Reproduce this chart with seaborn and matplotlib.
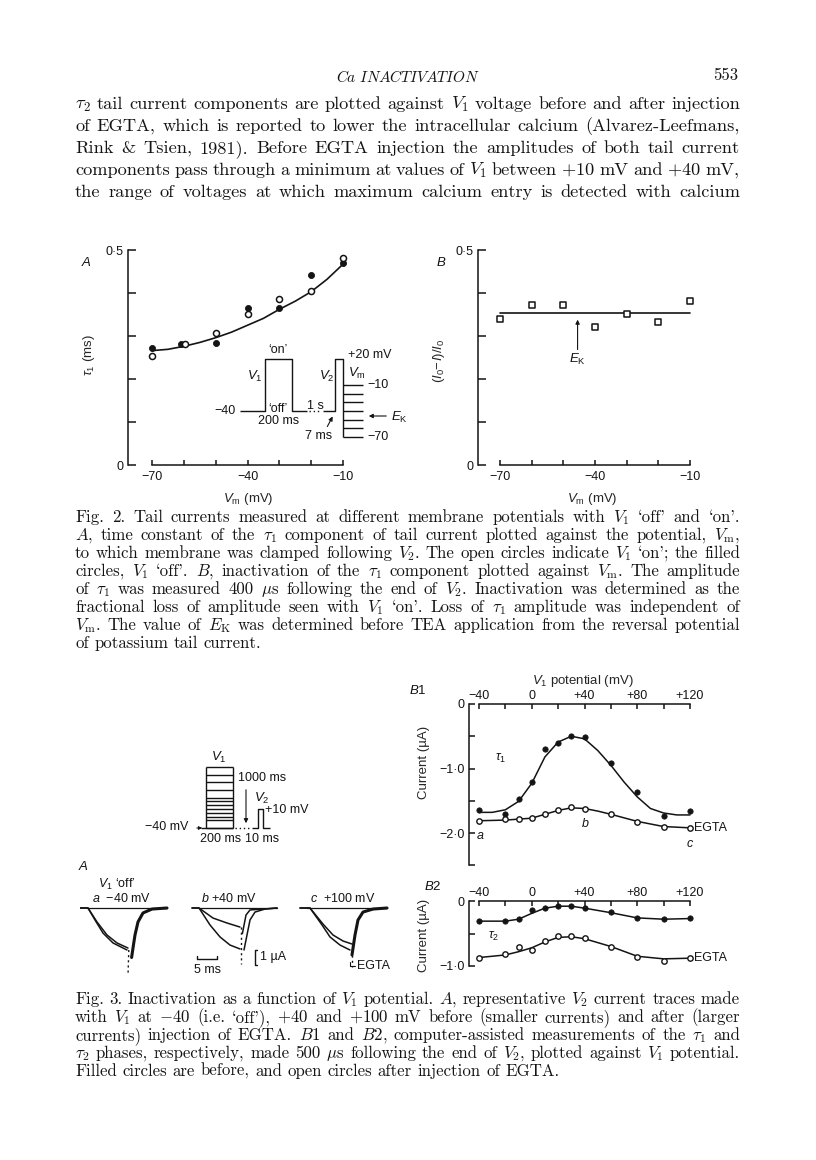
import numpy as np
import pandas as pd
import seaborn as sns
import matplotlib.pyplot as plt

W, H = 816, 1160
INK = '#141414'

# ---------------- Fig. 2A : tau1 of tail current against Vm
off_vm = [-70, -61, -50, -40, -30, -20, -10]
off_tau = [0.271, 0.282, 0.284, 0.365, 0.365, 0.443, 0.470]
on_vm = [-70, -59.5, -50, -40, -30, -20, -10]
on_tau = [0.254, 0.282, 0.308, 0.351, 0.385, 0.405, 0.482]
fit_vm = [-70, -65, -60, -55, -50, -45, -40, -35, -30, -25, -20, -15, -10]
fit_tau = [0.266, 0.269, 0.276, 0.285, 0.296, 0.309, 0.325, 0.341, 0.362, 0.381, 0.403, 0.432, 0.467]
hold_mv, on_mv = -40, 20
vm_steps = [-10, -20, -30, -40, -50, -60, -70]

# ---------------- Fig. 2B : inactivation of tau1 against Vm
inact_vm = [-70, -60, -50, -40, -30, -20, -10]
inact = [0.339, 0.371, 0.371, 0.321, 0.352, 0.332, 0.381]
inact_mean = 0.3525
ek_mv = -45.5

# ---------------- Fig. 3B1 / B2 : tail amplitudes against V1
v1 = [-40, -20, -10, 0, 10, 20, 30, 40, 60, 80, 100, 120]
t1_before = [-1.64, -1.71, -1.47, -1.21, -0.70, -0.60, -0.50, -0.51, -0.92, -1.36, -1.73, -1.66]
t1_egta = [-1.81, -1.79, -1.79, -1.77, -1.71, -1.64, -1.60, -1.63, -1.71, -1.83, -1.91, -1.92]
fit1_v = [-40, -30, -20, -10, 0, 10, 20, 30, 40, 50, 60, 70, 80, 90, 100, 110, 120]
fit1_before = [-1.68, -1.68, -1.64, -1.51, -1.23, -0.82, -0.59, -0.50, -0.54, -0.72, -0.95,
               -1.21, -1.44, -1.62, -1.69, -1.72, -1.72]
fit1e_v = [-40, -20, 0, 10, 20, 30, 40, 50, 60, 80, 100, 120]
fit1_egta = [-1.81, -1.80, -1.77, -1.71, -1.65, -1.61, -1.62, -1.66, -1.71, -1.82, -1.90, -1.92]

t2_before = [-0.31, -0.31, -0.28, -0.14, -0.10, -0.07, -0.08, -0.10, -0.17, -0.26, -0.27, -0.26]
t2_egta = [-0.87, -0.82, -0.71, -0.76, -0.61, -0.54, -0.54, -0.57, -0.70, -0.86, -0.93, -0.87]
fit2_v = [-40, -20, -10, 0, 10, 20, 30, 40, 60, 80, 100, 120]
fit2_before = [-0.31, -0.31, -0.28, -0.19, -0.11, -0.08, -0.08, -0.11, -0.18, -0.26, -0.28, -0.27]
fit2_egta = [-0.87, -0.83, -0.78, -0.72, -0.63, -0.56, -0.55, -0.58, -0.70, -0.85, -0.89, -0.88]
v2_mv = 10

# ---------------- Fig. 3A : V2 current traces (ms, uA)
tr_a_small = ([0, 2, 4.25, 6.75, 9.25, 12], [0, 0, -0.93, -1.8, -2.33, -2.67])
tr_a_large = ([0, 2, 3.75, 5.75, 8.25, 11.75], [0, 0, -0.8, -1.67, -2.33, -2.8])
tr_a_tail = ([12.2, 12.0], [-2.8, -4.5])
tr_a_rec = ([12.9, 13.4, 13.75, 14.5, 15.75, 18, 21.75], [-3.3, -2.4, -1.8, -0.93, -0.33, -0.07, 0])
tr_b_small = ([0, 1.75, 5.25, 8.75, 12], [0, 0, -0.67, -1.0, -1.27])
tr_b_large = ([0, 1.75, 4.5, 7, 9.5, 12], [0, 0, -1.13, -1.93, -2.47, -2.73])
tr_b_tail = ([12.3, 12.3], [-1.27, -3.7])
tr_b_rec1 = ([12.6, 13.5, 14.5, 17.75, 21.25], [-1.7, -0.47, -0.13, -0.07, 0])
tr_b_rec2 = ([13, 13.75, 14.5, 15.75, 18.25, 21.25], [-2.8, -1.8, -0.8, -0.27, -0.07, 0])
tr_c_small = ([0, 2.5, 5.75, 8.25, 10.75, 13], [0, 0, -1.07, -1.8, -2.2, -2.4])
tr_c_large = ([0, 2.5, 5.5, 7.5, 10, 12.5], [0, 0, -1.13, -1.93, -2.47, -2.8])
tr_c_tail = ([13, 13], [-2.8, -3.9])
tr_c_rec = ([13, 13.75, 14.5, 15.75, 18.25, 21.75], [-3.13, -1.8, -0.8, -0.27, -0.07, 0])
sweep_end = [21.75, 21.25, 21.75]

body = [
    r'$\tau_2$ tail current components are plotted against $V_1$ voltage before and after injection',
    'of EGTA, which is reported to lower the intracellular calcium (Alvarez-Leefmans,',
    'Rink & Tsien, 1981). Before EGTA injection the amplitudes of both tail current',
    r'components pass through a minimum at values of $V_1$ between $+10$ mV and $+40$ mV,',
    'the range of voltages at which maximum calcium entry is detected with calcium',
]
cap2 = [
    r"Fig. 2. Tail currents measured at different membrane potentials with $V_1$ `off' and `on'.",
    r'$A$, time constant of the $\tau_1$ component of tail current plotted against the potential, $V_\mathrm{m}$,',
    r"to which membrane was clamped following $V_2$. The open circles indicate $V_1$ `on'; the filled",
    r"circles, $V_1$ `off'. $B$, inactivation of the $\tau_1$ component plotted against $V_\mathrm{m}$. The amplitude",
    r'of $\tau_1$ was measured 400 $\mu$s following the end of $V_2$. Inactivation was determined as the',
    r"fractional loss of amplitude seen with $V_1$ `on'. Loss of $\tau_1$ amplitude was independent of",
    r'$V_\mathrm{m}$. The value of $E_\mathrm{K}$ was determined before TEA application from the reversal potential',
    'of potassium tail current.',
]
cap3 = [
    r'Fig. 3. Inactivation as a function of $V_1$ potential. $A$, representative $V_2$ current traces made',
    r"with $V_1$ at $-40$ (i.e. `off'), $+40$ and $+100$ mV before (smaller currents) and after (larger",
    r'currents) injection of EGTA. $B$1 and $B$2, computer-assisted measurements of the $\tau_1$ and',
    r'$\tau_2$ phases, respectively, made 500 $\mu$s following the end of $V_2$, plotted against $V_1$ potential.',
    'Filled circles are before, and open circles after injection of EGTA.',
]

sns.set_style('ticks')
plt.rcParams.update({
    'font.family': ['Liberation Sans', 'DejaVu Sans'],
    'mathtext.fontset': 'custom',
    'mathtext.rm': 'Liberation Sans',
    'mathtext.it': 'Liberation Sans:italic',
    'mathtext.bf': 'Liberation Sans:bold',
    'mathtext.sf': 'Liberation Sans',
    'axes.linewidth': 1.1,
    'axes.edgecolor': INK,
    'xtick.color': INK, 'ytick.color': INK,
    'xtick.direction': 'in', 'ytick.direction': 'in',
    'text.color': INK,
})
SERIF = dict(family=['cmr10', 'DejaVu Serif'], math_fontfamily='cm', color=INK)
LBL = 9
AXL = 9.5

fig = plt.figure(figsize=(W / 100, H / 100), dpi=100, facecolor='white')
page = fig.add_axes([0, 0, 1, 1])
page.set_xlim(0, W)
page.set_ylim(H, 0)
page.axis('off')
renderer = fig.canvas.get_renderer()


def place(xlim, ylim, xcal, ycal):
    # xcal / ycal: two known values and their page pixel positions
    def px(cal, v):
        v1_, p1, v2_, p2 = cal
        return p1 + (v - v1_) * (p2 - p1) / (v2_ - v1_)
    left, right = px(xcal, xlim[0]), px(xcal, xlim[1])
    ya, yb = px(ycal, ylim[0]), px(ycal, ylim[1])
    top, bottom = min(ya, yb), max(ya, yb)
    ax = fig.add_axes([left / W, 1 - bottom / H, (right - left) / W, (bottom - top) / H])
    ax.set_xlim(xlim)
    ax.set_ylim(ylim)
    ax.set_facecolor('none')
    return ax


def frame(ax, xside, xb, yb):
    for s in ax.spines.values():
        s.set_visible(False)
    ax.spines['left'].set_visible(True)
    ax.spines['left'].set_bounds(*yb)
    ax.spines[xside].set_visible(True)
    ax.spines[xside].set_bounds(*xb)


def put_lines(lines, x0, x1, y0, dy, size, last_ragged=True):
    for k, line in enumerate(lines):
        words = line.split(' ')
        arts = [page.text(0, y0 + k * dy, w, fontsize=size, va='baseline', ha='left', **SERIF)
                for w in words]
        widths = [a.get_window_extent(renderer).width for a in arts]
        ragged = last_ragged and k == len(lines) - 1
        gap = size * 100 / 72 * 0.33 if ragged else (x1 - x0 - sum(widths)) / (len(words) - 1)
        x = x0
        for a, w in zip(arts, widths):
            a.set_x(x)
            x += w + gap


# ---------------- running head and body text
page.text(408, 82, r'$\mathit{Ca\ INACTIVATION}$', fontsize=11, ha='center', va='baseline', **SERIF)
page.text(738, 80, '553', fontsize=12, ha='right', va='baseline', **SERIF)
put_lines(body, 75, 740, 109, 22, 13.2, last_ragged=False)
put_lines(cap2, 75, 740, 522, 18, 12.1)
put_lines(cap3, 75, 740, 1004, 18, 12.1)

# ---------------- Fig. 2A
ax = place((-77.5, -8), (0, 0.52), (-70, 152, -10, 343), (0, 465, 0.5, 250))
sns.lineplot(x=fit_vm, y=fit_tau, ax=ax, color=INK, lw=1.2)
sns.scatterplot(x=off_vm, y=off_tau, ax=ax, color=INK, edgecolor=INK, s=19, linewidth=0.6, zorder=3)
sns.scatterplot(x=on_vm, y=on_tau, ax=ax, color='white', edgecolor=INK, s=19, linewidth=1.1, zorder=4)
frame(ax, 'bottom', (-70, -10), (0, 0.5))
ax.set_xticks(range(-70, -9, 10), ['−70', '', '', '−40', '', '', '−10'])
ax.set_yticks(np.arange(0, 0.51, 0.1), ['0', '', '', '', '', '0·5'])
ax.tick_params(axis='y', length=6, width=1.1, pad=3, labelsize=LBL)
ax.tick_params(axis='x', length=3.5, width=1.1, pad=4, labelsize=LBL)
ax.set_xlabel(r'$V_\mathrm{m}$ (mV)', fontsize=AXL)
ax.xaxis.set_label_coords(248, 491, transform=page.transData)
ax.set_ylabel(r'$\tau_1$ (ms)', fontsize=AXL)
ax.yaxis.set_label_coords(97, 355, transform=page.transData)
page.text(86, 263, r'$A$', fontsize=AXL, ha='center', va='center')

# protocol inset of Fig. 2A (voltage scale 52 px per 60 mV)
def mv2a(v):
    return 411 - (v - hold_mv) * 52 / 60


kw = dict(color=INK, lw=1.0, solid_capstyle='butt')
page.plot([240, 265, 265, 292, 292, 307], [mv2a(hold_mv)] * 2 + [mv2a(on_mv)] * 2 + [mv2a(hold_mv)] * 2, **kw)
page.plot([309, 321], [mv2a(hold_mv)] * 2, color=INK, lw=1.0, ls=(0, (1, 2)))
page.plot([323, 335, 335, 343, 343], [mv2a(hold_mv)] * 2 + [mv2a(on_mv)] * 2 + [mv2a(min(vm_steps))], **kw)
for v in vm_steps:
    page.plot([343, 363], [mv2a(v)] * 2, **kw)
page.text(236, mv2a(hold_mv), '−40', fontsize=LBL, ha='right', va='center')
page.text(278, mv2a(on_mv) - 9, '‘on’', fontsize=LBL, ha='center', va='center')
page.text(278, mv2a(hold_mv) - 2, '‘off’', fontsize=LBL, ha='center', va='center')
page.text(279, 421, '200 ms', fontsize=LBL, ha='center', va='center')
page.text(315, mv2a(hold_mv) - 5, '1 s', fontsize=LBL, ha='center', va='center')
page.text(255, 376, r'$V_1$', fontsize=AXL, ha='center', va='center')
page.text(327, 376, r'$V_2$', fontsize=AXL, ha='center', va='center')
page.text(348, mv2a(on_mv) - 4, '+20 mV', fontsize=LBL, ha='left', va='center')
page.text(348, 373, r'$V_\mathrm{m}$', fontsize=AXL, ha='left', va='center')
page.text(367, mv2a(-10), '−10', fontsize=LBL, ha='left', va='center')
page.text(367, mv2a(-70), '−70', fontsize=LBL, ha='left', va='center')
page.text(319, 436, '7 ms', fontsize=LBL, ha='center', va='center')
page.annotate('', xy=(334, 414), xytext=(326, 429),
              arrowprops=dict(arrowstyle='-|>', lw=0.8, color=INK, mutation_scale=6))
page.annotate('', xy=(366, 416), xytext=(389, 416),
              arrowprops=dict(arrowstyle='-|>', lw=0.8, color=INK, mutation_scale=6))
page.text(391, 417, r'$E_\mathrm{K}$', fontsize=AXL, ha='left', va='center')

# ---------------- Fig. 2B
ax = place((-77, -8), (0, 0.52), (-70, 500, -10, 690), (0, 465, 0.5, 250))
sns.lineplot(x=[inact_vm[0], inact_vm[-1]], y=[inact_mean, inact_mean], ax=ax, color=INK, lw=1.2)
sns.scatterplot(x=inact_vm, y=inact, ax=ax, marker='s', color='white', edgecolor=INK,
                s=18, linewidth=1.1, zorder=4)
ax.annotate('', xy=(ek_mv, inact_mean - 0.008), xytext=(ek_mv, 0.262),
            arrowprops=dict(arrowstyle='-|>', lw=0.8, color=INK, mutation_scale=6))
ax.text(ek_mv, 0.245, r'$E_\mathrm{K}$', fontsize=AXL, ha='center', va='center')
frame(ax, 'bottom', (-70, -10), (0, 0.5))
ax.set_xticks(range(-70, -9, 10), ['−70', '', '', '−40', '', '', '−10'])
ax.set_yticks(np.arange(0, 0.51, 0.1), ['0', '', '', '', '', '0·5'])
ax.tick_params(axis='y', length=6, width=1.1, pad=3, labelsize=LBL)
ax.tick_params(axis='x', length=3.5, width=1.1, pad=4, labelsize=LBL)
ax.set_xlabel(r'$V_\mathrm{m}$ (mV)', fontsize=AXL)
ax.xaxis.set_label_coords(592, 491, transform=page.transData)
ax.set_ylabel(r'$(I_0\!-\!I)/I_0$', fontsize=AXL)
ax.yaxis.set_label_coords(447, 361, transform=page.transData)
page.text(441, 263, r'$B$', fontsize=AXL, ha='center', va='center')

# ---------------- Fig. 3B1 and B2
def b_axes(ylim, ycal, yticks, ylabels):
    ax = place((-47.6, 126), ylim, (-40, 479, 120, 690), ycal)
    frame(ax, 'top', (-40, 120), (ylim[0], 0))
    ax.xaxis.tick_top()
    ax.set_xticks(range(-40, 121, 20), ['−40', '', '0', '', '+40', '', '+80', '', '+120'])
    ax.set_yticks(yticks, ylabels)
    ax.tick_params(axis='y', length=4.5, width=1.1, pad=3, labelsize=LBL)
    ax.tick_params(axis='x', length=3.5, width=1.1, pad=1.5, labelsize=LBL)
    ax.set_ylabel('Current (µA)', fontsize=AXL)
    return ax


ax = b_axes((-2.5, 0), (0, 704, -2, 833), [0, -0.5, -1, -1.5, -2, -2.5],
            ['0', '', '−1·0', '', '−2·0', ''])
sns.lineplot(x=fit1_v, y=fit1_before, ax=ax, color=INK, lw=1.1)
sns.lineplot(x=fit1e_v, y=fit1_egta, ax=ax, color=INK, lw=1.1)
sns.scatterplot(x=v1, y=t1_before, ax=ax, color=INK, edgecolor=INK, s=15, linewidth=0.5, zorder=3)
sns.scatterplot(x=v1, y=t1_egta, ax=ax, color='white', edgecolor=INK, s=15, linewidth=1.0, zorder=4,
                clip_on=False)
ax.set_xlabel(r'$V_1$ potential (mV)', fontsize=AXL)
ax.xaxis.set_label_coords(583, 673, transform=page.transData)
ax.yaxis.set_label_coords(430, 762, transform=page.transData)
ax.text(-24, -0.84, r'$\tau_1$', fontsize=LBL, ha='center', va='center')
ax.text(-39, -2.05, r'$a$', fontsize=LBL, ha='center', va='center')
ax.text(40.5, -1.85, r'$b$', fontsize=LBL, ha='center', va='center')
ax.text(120, -2.17, r'$c$', fontsize=LBL, ha='center', va='center')
ax.text(123, -1.92, 'EGTA', fontsize=LBL, ha='left', va='center')
page.text(418, 690, r'$B$1', fontsize=AXL, ha='center', va='center')

ax = b_axes((-1.0, 0), (0, 901, -1, 966), [0, -0.5, -1], ['0', '', '−1·0'])
sns.lineplot(x=fit2_v, y=fit2_before, ax=ax, color=INK, lw=1.1)
sns.lineplot(x=fit2_v, y=fit2_egta, ax=ax, color=INK, lw=1.1)
sns.scatterplot(x=v1, y=t2_before, ax=ax, color=INK, edgecolor=INK, s=15, linewidth=0.5, zorder=3)
sns.scatterplot(x=v1, y=t2_egta, ax=ax, color='white', edgecolor=INK, s=15, linewidth=1.0, zorder=4,
                clip_on=False)
ax.yaxis.set_label_coords(430, 935, transform=page.transData)
ax.text(-29, -0.55, r'$\tau_2$', fontsize=LBL, ha='center', va='center')
ax.text(123, -0.87, 'EGTA', fontsize=LBL, ha='left', va='center')
page.text(433, 886, r'$B$2', fontsize=AXL, ha='center', va='center')

# protocol inset of Fig. 3 (0.38 px per mV)
def mv3(v):
    return 828 - (v - hold_mv) * 0.38


page.plot([206, 206], [mv3(hold_mv), mv3(max(v1))], **kw)
page.plot([233, 233], [mv3(hold_mv), mv3(max(v1))], **kw)
for v in v1:
    page.plot([206, 233], [mv3(v)] * 2, **kw)
page.plot([201, 233], [mv3(hold_mv)] * 2, **kw)
page.plot([235, 251], [mv3(hold_mv)] * 2, color=INK, lw=1.0, ls=(0, (1, 2)))
page.plot([252, 258, 258, 263, 263, 270], [mv3(hold_mv)] * 2 + [mv3(v2_mv)] * 2 + [mv3(hold_mv)] * 2, **kw)
page.text(219, 757, r'$V_1$', fontsize=AXL, ha='center', va='center')
page.text(238, 778, '1000 ms', fontsize=LBL, ha='left', va='center')
page.annotate('', xy=(246, 826), xytext=(246, 787),
              arrowprops=dict(arrowstyle='-|>', lw=0.8, color=INK, mutation_scale=6))
page.text(262, 798, r'$V_2$', fontsize=AXL, ha='center', va='center')
page.text(265, 810, '+10 mV', fontsize=LBL, ha='left', va='center')
page.text(167, 827, '−40 mV', fontsize=LBL, ha='center', va='center')
page.annotate('', xy=(205, 828), xytext=(194, 828),
              arrowprops=dict(arrowstyle='-|>', lw=0.7, color=INK, mutation_scale=5))
page.text(221, 839, '200 ms', fontsize=LBL, ha='center', va='center')
page.text(262, 839, '10 ms', fontsize=LBL, ha='center', va='center')

# ---------------- Fig. 3A current traces
ax = place((0, 80), (-5.8, 0.9), (0, 80, 10, 120), (0, 908, -1, 923))
ax.axis('off')
groups = [
    (0, [tr_a_small, tr_a_large], tr_a_tail, [tr_a_rec]),
    (28, [tr_b_small, tr_b_large], tr_b_tail, [tr_b_rec1, tr_b_rec2]),
    (55, [tr_c_small, tr_c_large], tr_c_tail, [tr_c_rec]),
]
for (t0, falls, tail, recs), t_end in zip(groups, sweep_end):
    sns.lineplot(x=[t0 + 1.8, t0 + t_end], y=[0, 0], ax=ax, color=INK, lw=0.9)
    for tt, ii in falls:
        sns.lineplot(x=[t0 + t for t in tt], y=ii, ax=ax, color=INK, lw=1.1,
                     estimator=None, sort=False)
    sns.lineplot(x=[t0 + t for t in tail[0]], y=tail[1], ax=ax, color=INK, lw=1.0,
                 ls=(0, (1.5, 2.2)), estimator=None, sort=False)
    for tt, ii in recs:
        sns.lineplot(x=[t0 + t for t in tt], y=ii, ax=ax, color=INK,
                     lw=2.2 if len(recs) == 1 else 1.1, estimator=None, sort=False)
# scale bars: 5 ms and 1 uA
ax.plot([29.25, 29.25, 34.25, 34.25], [-3.2, -3.4, -3.4, -3.2], color=INK, lw=1.0)
ax.plot([44.3, 43.75, 43.75, 44.3], [-2.8, -2.8, -3.8, -3.8], color=INK, lw=1.0)
page.text(207, 970, '5 ms', fontsize=LBL, ha='center', va='center')
page.text(260, 957, '1 µA', fontsize=LBL, ha='left', va='center')
page.plot([350, 350, 355], [962, 966, 966], color=INK, lw=0.8)
page.text(357, 966, 'EGTA', fontsize=LBL, ha='left', va='center')
page.text(83, 866, r'$A$', fontsize=AXL, ha='center', va='center')
page.text(117, 884, r'$V_1$ ‘off’', fontsize=LBL, ha='center', va='center')
page.text(122, 899, r'$a$  −40 mV', fontsize=LBL, ha='center', va='center')
page.text(229, 899, r'$b$ +40 mV', fontsize=LBL, ha='center', va='center')
page.text(343, 899, r'$c$  +100 mV', fontsize=LBL, ha='center', va='center')

fig.savefig('out.png', dpi=100, facecolor='white')
